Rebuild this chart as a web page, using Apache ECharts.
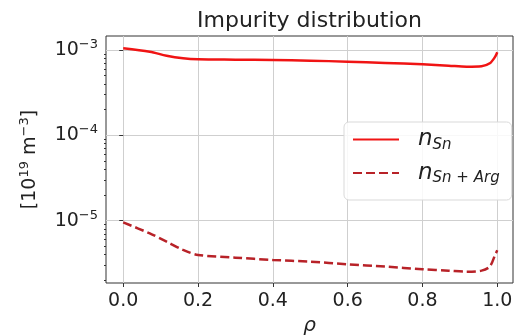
<!DOCTYPE html>
<html>
<head>
<meta charset="utf-8">
<script src="https://cdn.jsdelivr.net/npm/echarts@6/dist/echarts.min.js"></script>
<style>
  html, body { margin: 0; padding: 0; background: #ffffff; }
  #chart { width: 520px; height: 336px; }
</style>
</head>
<body>
<div id="chart"></div>
<script>
// rho values along the profile
const rho = [0, 0.071, 0.116, 0.16, 0.2, 0.3, 0.4, 0.5, 0.6, 0.7, 0.8, 0.87, 0.918, 0.958, 0.98, 0.994, 1.0];
// impurity density [1e19 m^-3]
const nSn = [1.047e-3, 9.55e-4, 8.57e-4, 8.0e-4, 7.78e-4, 7.7e-4, 7.63e-4, 7.5e-4, 7.3e-4, 7.05e-4, 6.79e-4, 6.55e-4, 6.37e-4, 6.45e-4, 6.98e-4, 8.3e-4, 9.4e-4];
const nSnArg = [9.55e-6, 7.1e-6, 5.68e-6, 4.54e-6, 3.97e-6, 3.69e-6, 3.47e-6, 3.31e-6, 3.08e-6, 2.9e-6, 2.7e-6, 2.6e-6, 2.53e-6, 2.6e-6, 2.9e-6, 3.96e-6, 4.5e-6];

const xTicks = [0, 0.2, 0.4, 0.6, 0.8, 1.0];
const yTicks = [1e-5, 1e-4, 1e-3];
const yMinorTicks = [
  2e-6, 3e-6, 4e-6, 5e-6, 6e-6, 7e-6, 8e-6, 9e-6,
  2e-5, 3e-5, 4e-5, 5e-5, 6e-5, 7e-5, 8e-5, 9e-5,
  2e-4, 3e-4, 4e-4, 5e-4, 6e-4, 7e-4, 8e-4, 9e-4
];

const xMin = -0.046, xMax = 1.042;
const yMin = Math.pow(10, -5.73), yMax = Math.pow(10, -2.836);

const colors = {
  ink: "#222222",
  spine: "#333333",
  grid: "#cfcfcf",
  sn: "#f01414",
  snArg: "#b82228"
};
const font = "'DejaVu Sans', sans-serif";

const pair = (xs, ys) => xs.map((x, i) => [x, ys[i]]);
const supLabel = v => {
  const e = Math.round(Math.log10(v));
  return "{b|10}{s|\u2212" + Math.abs(e) + "}";
};

const chart = echarts.init(document.getElementById("chart"), null, { renderer: "canvas" });

chart.setOption({
  animation: false,
  textStyle: { fontFamily: font, color: colors.ink },
  title: {
    text: "Impurity distribution",
    left: 197,
    top: 10,
    padding: 0,
    textStyle: { fontFamily: font, fontSize: 22, fontWeight: "normal", color: colors.ink }
  },
  grid: {
    left: 106, right: 7, top: 36, bottom: 53,
    containLabel: false,
    outerBoundsMode: "none",
    show: true, borderColor: colors.spine, borderWidth: 1, backgroundColor: "transparent"
  },
  legend: {
    left: 344, top: 122,
    orient: "vertical",
    itemWidth: 46, itemHeight: 14, itemGap: 9,
    padding: [6, 12, 14, 8],
    backgroundColor: "rgba(255,255,255,0.85)",
    borderColor: "#d9d9d9", borderWidth: 1, borderRadius: 5,
    itemStyle: { opacity: 0 },
    data: ["nSn", "nSnArg"],
    formatter: name => name === "nSn" ? "{n|n}{sub|Sn}" : "{n|n}{sub|Sn + Arg}",
    textStyle: {
      rich: {
        n: { fontFamily: font, fontStyle: "italic", fontSize: 23, lineHeight: 26, color: colors.ink, padding: [0, 0, 0, 14] },
        sub: { fontFamily: font, fontStyle: "italic", fontSize: 15, lineHeight: 15, verticalAlign: "bottom", color: colors.ink }
      }
    }
  },
  xAxis: {
    type: "value",
    min: xMin, max: xMax,
    name: "\u03c1",
    nameLocation: "middle",
    nameGap: 29,
    nameTextStyle: { fontFamily: font, fontStyle: "italic", fontSize: 20, color: colors.ink },
    axisLine: { show: false },
    axisTick: { show: true, customValues: xTicks, length: 4, lineStyle: { color: colors.spine } },
    axisLabel: { customValues: xTicks, formatter: v => v.toFixed(1), fontFamily: font, fontSize: 19, color: colors.ink, margin: 9 },
    splitLine: { show: true, lineStyle: { color: colors.grid, width: 1 } }
  },
  yAxis: [
    {
      type: "log",
      min: yMin, max: yMax,
      name: "[10{s|19} m{s|\u22123}]",
      nameLocation: "middle",
      nameRotate: 90,
      nameGap: 64,
      nameTextStyle: {
        fontFamily: font, fontSize: 19, lineHeight: 24, color: colors.ink,
        rich: {
          s: { fontFamily: font, fontSize: 13, lineHeight: 13, verticalAlign: "top", color: colors.ink }
        }
      },
      axisLine: { show: false },
      axisTick: { show: true, customValues: yTicks, length: 4, lineStyle: { color: colors.spine } },
      axisLabel: {
        customValues: yTicks,
        formatter: supLabel,
        margin: 8,
        rich: {
          b: { fontFamily: font, fontSize: 19, lineHeight: 24, color: colors.ink },
          s: { fontFamily: font, fontSize: 13, lineHeight: 14, verticalAlign: "top", color: colors.ink }
        }
      },
      splitLine: { show: true, lineStyle: { color: colors.grid, width: 1 } }
    },
    {
      type: "log",
      min: yMin, max: yMax,
      position: "left",
      axisLine: { show: false },
      axisTick: { show: true, customValues: yMinorTicks, length: 2, lineStyle: { color: colors.spine } },
      axisLabel: { show: false },
      splitLine: { show: false }
    }
  ],
  series: [
    {
      name: "nSn",
      type: "line",
      data: pair(rho, nSn),
      smooth: 0.3,
      symbol: "none",
      lineStyle: { color: colors.sn, width: 2.5 },
      itemStyle: { color: colors.sn }
    },
    {
      name: "nSnArg",
      type: "line",
      data: pair(rho, nSnArg),
      smooth: 0.3,
      symbol: "none",
      lineStyle: { color: colors.snArg, width: 2.5, type: [9, 4] },
      itemStyle: { color: colors.snArg }
    }
  ]
});
</script>
</body>
</html>
